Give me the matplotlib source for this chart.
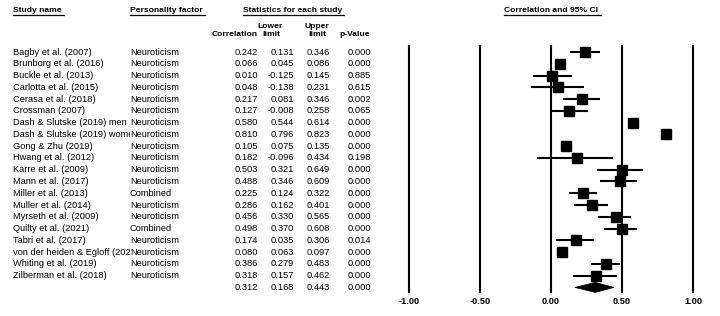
import matplotlib
matplotlib.use("Agg")
import matplotlib.pyplot as plt
from matplotlib.transforms import blended_transform_factory, Bbox, TransformedBbox
from matplotlib.lines import Line2D
from matplotlib.patches import Polygon

plt.rcParams['font.family'] = ['Liberation Sans', 'DejaVu Sans']

studies = ["Bagby et al. (2007)", "Brunborg et al. (2016)", "Buckle et al. (2013)",
           "Carlotta et al. (2015)", "Cerasa et al. (2018)", "Crossman (2007)",
           "Dash & Slutske (2019) men", "Dash & Slutske (2019) women", "Gong & Zhu (2019)",
           "Hwang et al. (2012)", "Karre et al. (2009)", "Mann et al. (2017)",
           "Miller et al. (2013)", "Muller et al. (2014)", "Myrseth et al. (2009)",
           "Quilty et al. (2021)", "Tabri et al. (2017)", "von der heiden & Egloff (2021)",
           "Whiting et al. (2019)", "Zilberman et al. (2018)"]
factors = ["Neuroticism"] * 12 + ["Combined", "Neuroticism", "Neuroticism", "Combined",
                                  "Neuroticism", "Neuroticism", "Neuroticism", "Neuroticism"]
corr = [0.242, 0.066, 0.010, 0.048, 0.217, 0.127, 0.580, 0.810, 0.105, 0.182,
        0.503, 0.488, 0.225, 0.286, 0.456, 0.498, 0.174, 0.080, 0.386, 0.318]
lower = [0.131, 0.045, -0.125, -0.138, 0.081, -0.008, 0.544, 0.796, 0.075, -0.096,
         0.321, 0.346, 0.124, 0.162, 0.330, 0.370, 0.035, 0.063, 0.279, 0.157]
upper = [0.346, 0.086, 0.145, 0.231, 0.346, 0.258, 0.614, 0.823, 0.135, 0.434,
         0.649, 0.609, 0.322, 0.401, 0.565, 0.608, 0.306, 0.097, 0.483, 0.462]
pval = [0.000, 0.000, 0.885, 0.615, 0.002, 0.065, 0.000, 0.000, 0.000, 0.198,
        0.000, 0.000, 0.000, 0.000, 0.000, 0.000, 0.014, 0.000, 0.000, 0.000]
summary_corr, summary_lower, summary_upper, summary_p = 0.312, 0.168, 0.443, 0.000
xticks = [-1.0, -0.5, 0.0, 0.5, 1.0]
xtick_labels = ["-1.00", "-0.50", "0.00", "0.50", "1.00"]

W, H = 720, 316
fig = plt.figure(figsize=(W / 100, H / 100), dpi=100)
ax = fig.add_axes([0, 0, 1, 1])
ax.axis('off')

# pixel mapping of forest scale
x0px, scale = 551.0, 142.0
row0px, rowh = 52.0, 11.77
ax.set_xlim(-x0px / scale, (W - x0px) / scale)
ax.set_ylim((H - row0px) / rowh, -row0px / rowh)

def fy(py):
    return 1 - py / H

def fx(px):
    return px / W

bt = blended_transform_factory(fig.transFigure, ax.transData)
n = len(studies)
rows = list(range(n))
srow = n

body = 6.7
hdr = 6.1

# vertical reference lines
for xv in xticks:
    ax.plot([xv, xv], [(45 - row0px) / rowh, (293 - row0px) / rowh], color='black',
            lw=1.5, solid_capstyle='butt', zorder=1)
for xv, lab in zip(xticks, xtick_labels):
    ax.text(xv, (302 - row0px) / rowh, lab, ha='center', va='center',
            fontsize=6.6, fontweight='bold')

# CI whiskers and squares
for i in rows:
    ax.plot([lower[i], upper[i]], [i, i], color='black', lw=1.5,
            solid_capstyle='butt', zorder=2)
ax.plot(corr, rows, 's', color='black', markersize=7.6, zorder=3)

# summary diamond
hh = 5.0 / rowh
ax.add_patch(Polygon([[summary_lower, srow], [summary_corr, srow - hh],
                      [summary_upper, srow], [summary_corr, srow + hh]],
                     closed=True, facecolor='black', edgecolor='black', lw=0.5, zorder=3))

# table body (study names clipped at the next column, as in the reference)
clip = TransformedBbox(Bbox([[0, 0], [fx(130), 1]]), fig.transFigure)
for i in rows:
    t = ax.text(fx(13), i, studies[i], transform=bt, ha='left', va='center',
                fontsize=body, clip_on=True)
    t.set_clip_box(clip)
    ax.text(fx(130), i, factors[i], transform=bt, ha='left', va='center', fontsize=body)
    ax.text(fx(258), i, f"{corr[i]:.3f}", transform=bt, ha='right', va='center', fontsize=body)
    ax.text(fx(294), i, f"{lower[i]:.3f}", transform=bt, ha='right', va='center', fontsize=body)
    ax.text(fx(330), i, f"{upper[i]:.3f}", transform=bt, ha='right', va='center', fontsize=body)
    ax.text(fx(371), i, f"{pval[i]:.3f}", transform=bt, ha='right', va='center', fontsize=body)
ax.text(fx(258), srow, f"{summary_corr:.3f}", transform=bt, ha='right', va='center', fontsize=body)
ax.text(fx(294), srow, f"{summary_lower:.3f}", transform=bt, ha='right', va='center', fontsize=body)
ax.text(fx(330), srow, f"{summary_upper:.3f}", transform=bt, ha='right', va='center', fontsize=body)
ax.text(fx(371), srow, f"{summary_p:.3f}", transform=bt, ha='right', va='center', fontsize=body)

# headers
underlined = []
underlined.append(fig.text(fx(13), fy(11), "Study name", ha='left', va='center',
                           fontsize=hdr, fontweight='bold'))
underlined.append(fig.text(fx(130), fy(11), "Personality factor", ha='left', va='center',
                           fontsize=hdr, fontweight='bold'))
underlined.append(fig.text(fx(292.5), fy(11), "Statistics for each study", ha='center',
                           va='center', fontsize=hdr, fontweight='bold'))
underlined.append(fig.text(fx(551.5), fy(11), "Correlation and 95% CI", ha='center',
                           va='center', fontsize=hdr, fontweight='bold'))
fig.text(fx(235), fy(35), "Correlation", ha='center', va='center', fontsize=hdr, fontweight='bold')
fig.text(fx(270), fy(26.5), "Lower", ha='center', va='center', fontsize=hdr, fontweight='bold')
fig.text(fx(271), fy(35), "limit", ha='center', va='center', fontsize=hdr, fontweight='bold')
fig.text(fx(316.7), fy(26.5), "Upper", ha='center', va='center', fontsize=hdr, fontweight='bold')
fig.text(fx(317), fy(35), "limit", ha='center', va='center', fontsize=hdr, fontweight='bold')
fig.text(fx(355), fy(35), "p-Value", ha='center', va='center', fontsize=hdr, fontweight='bold')

renderer = fig.canvas.get_renderer()
for t in underlined:
    bb = t.get_window_extent(renderer)
    x_a = bb.x0 / W
    x_b = (bb.x1 + 2) / W
    yy = fy(14.6)
    fig.add_artist(Line2D([x_a, x_b], [yy, yy], transform=fig.transFigure,
                          color='black', lw=0.9))

fig.savefig("out.png", dpi=100)
